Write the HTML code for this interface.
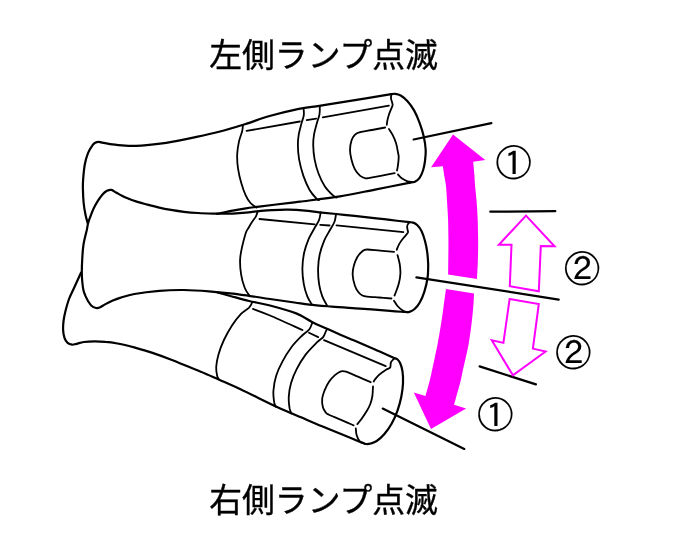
<!DOCTYPE html>
<html lang="ja"><head><meta charset="utf-8"><title>ランプ点滅</title>
<style>
html,body{margin:0;padding:0;background:#fff;}
body{width:686px;height:556px;overflow:hidden;position:relative;font-family:"Liberation Sans","Noto Sans CJK JP",sans-serif;}
svg{position:absolute;left:0;top:0;display:block;will-change:transform;}
.k{fill:none;stroke:#000;stroke-width:2.2;stroke-linecap:round;stroke-linejoin:round;}
.d{fill:none;stroke:#000;stroke-width:1.8;stroke-linecap:round;stroke-linejoin:round;}
.m{fill:#ff00ff;stroke:none;}
.mo{fill:#fff;stroke:#ff00ff;stroke-width:2;stroke-linejoin:miter;}
.t{font-family:"Liberation Sans","Noto Sans CJK JP",sans-serif;font-size:32.8px;fill:#000;stroke:#000;stroke-width:0.35;}
.c{font-family:"Liberation Sans","Noto Sans CJK JP",sans-serif;fill:#000;}
</style></head><body>
<svg width="686" height="556" viewBox="0 0 686 556">
<rect width="686" height="556" fill="#fff"/>
<path class="k" d="M87.7 223.2C87.3 221.7 86.1 217.6 85.4 214.2C84.7 210.8 84.0 206.7 83.6 202.5C83.2 198.3 83.0 192.8 82.9 189.0C82.8 185.2 82.8 184.0 83.1 180.0C83.4 176.0 83.9 169.5 84.7 165.0C85.5 160.5 86.7 156.5 88.0 153.2C89.3 149.9 91.4 146.9 92.6 145.2C93.8 143.5 94.2 143.4 95.2 142.8C96.2 142.2 97.4 141.8 98.5 141.8C99.6 141.8 100.1 142.2 102.0 142.6C103.9 143.0 106.7 143.6 110.0 144.1C113.3 144.6 117.9 145.0 122.0 145.3C126.1 145.6 130.3 145.8 134.4 145.8C138.5 145.8 140.6 145.9 146.8 145.2C153.0 144.5 163.4 143.2 171.7 141.8C180.0 140.4 188.4 138.6 196.5 136.9C204.6 135.2 211.9 133.6 220.0 131.5C228.1 129.4 236.5 126.8 244.8 124.2C253.1 121.6 261.3 118.4 269.6 116.0C277.9 113.6 286.1 111.5 294.4 109.8C302.7 108.1 311.0 107.1 319.3 105.8C327.6 104.5 332.0 103.7 344.0 101.8C356.0 99.9 383.4 95.5 391.3 94.2"/>
<path class="k" d="M217.0 213.8C219.6 213.3 228.0 211.5 232.8 210.6C237.6 209.7 241.5 209.0 245.9 208.3C250.3 207.6 251.8 207.5 259.1 206.6C266.5 205.7 283.2 203.7 290.0 202.9C296.8 202.1 291.7 202.8 300.0 201.7C308.3 200.6 327.5 198.4 340.0 196.4C352.5 194.4 363.3 191.9 375.0 189.6C386.7 187.3 404.3 183.8 410.2 182.6"/>
<path class="k" d="M391.3 94.2C392.0 94.1 393.7 93.6 395.3 93.8C396.9 94.0 398.7 94.3 400.7 95.5C402.7 96.7 405.2 98.7 407.5 101.2C409.8 103.7 412.2 107.0 414.2 110.6C416.2 114.2 418.0 118.5 419.6 122.8C421.2 127.1 422.7 131.8 423.7 136.3C424.7 140.8 425.5 145.9 425.7 150.0C425.9 154.1 425.4 157.6 425.0 161.0C424.6 164.4 423.9 167.7 423.0 170.5C422.1 173.3 421.0 176.0 419.6 177.9C418.2 179.8 416.5 180.9 414.9 181.7C413.3 182.5 411.0 182.4 410.2 182.5"/>
<path class="k" d="M409.4 222.2C406.2 221.8 396.6 220.7 390.0 219.9C383.4 219.1 377.6 218.4 369.9 217.6C362.2 216.8 352.4 215.7 344.0 214.8C335.6 213.9 325.8 213.0 319.3 212.3C312.8 211.6 310.2 211.1 305.0 210.6C299.8 210.1 293.5 209.7 288.0 209.6C282.5 209.5 277.0 209.8 272.2 210.1C267.4 210.3 263.5 210.7 259.1 211.1C254.7 211.5 250.3 212.3 245.9 212.7C241.5 213.1 237.2 213.4 232.8 213.6C228.4 213.8 223.0 213.7 219.7 213.7C216.4 213.7 216.7 213.7 213.1 213.6C209.5 213.5 202.8 213.3 198.0 213.0C193.2 212.7 188.5 212.3 184.0 211.8C179.5 211.3 175.1 210.6 171.0 209.9C166.9 209.2 163.6 208.6 159.3 207.6C155.0 206.6 148.9 205.0 145.0 204.0C141.1 203.0 138.9 202.3 136.0 201.4C133.1 200.5 129.9 199.3 127.5 198.3C125.1 197.3 123.4 196.5 121.5 195.5C119.6 194.5 117.7 193.4 116.0 192.5C114.3 191.6 113.0 190.2 111.5 189.9C110.0 189.6 108.5 190.1 107.0 190.8C105.5 191.6 104.0 192.8 102.5 194.4C101.0 196.1 99.5 198.3 98.0 200.7C96.5 203.1 94.8 206.0 93.5 208.8C92.2 211.7 90.8 215.4 89.9 217.8C89.0 220.2 88.6 221.2 88.1 223.2C87.6 225.2 87.5 226.5 86.8 230.0C86.0 233.5 84.3 239.3 83.6 244.0C82.8 248.7 82.6 253.3 82.3 258.0C82.0 262.7 81.8 268.2 81.8 272.2C81.8 276.2 82.0 279.0 82.3 282.0C82.6 285.0 82.9 287.8 83.4 290.0C83.9 292.2 84.5 293.6 85.2 295.4C86.0 297.2 86.9 299.1 87.9 300.8C89.0 302.5 90.2 304.6 91.5 305.8C92.8 307.0 94.7 307.7 96.0 308.0C97.3 308.3 98.1 308.2 99.6 307.6C101.1 307.0 102.9 305.5 105.0 304.4C107.1 303.3 109.8 301.9 112.3 300.8C114.8 299.7 116.3 299.0 120.0 297.9C123.7 296.8 127.9 295.2 134.4 294.0C141.0 292.8 151.0 291.5 159.3 290.8C167.6 290.1 175.7 289.9 184.0 290.0C192.3 290.1 201.2 290.7 208.9 291.3C216.6 291.9 223.3 292.6 230.0 293.4C236.7 294.1 242.4 294.9 249.1 295.8C255.8 296.7 262.4 297.9 270.0 299.0C277.6 300.1 287.8 301.6 294.4 302.5C301.0 303.4 303.2 303.9 309.4 304.6C315.6 305.3 323.3 305.9 331.7 306.6C340.1 307.3 350.3 307.9 360.0 308.6C369.7 309.3 382.5 310.3 390.0 310.9C397.5 311.5 402.5 311.8 405.0 312.0"/>
<path class="k" d="M409.4 222.2C410.0 222.3 412.0 222.1 413.3 222.6C414.6 223.1 416.0 223.8 417.4 225.2C418.8 226.6 420.2 228.3 421.5 230.9C422.8 233.5 424.0 237.3 425.0 241.0C426.0 244.7 426.8 248.8 427.3 252.8C427.8 256.8 428.1 260.7 428.2 264.8C428.2 268.9 428.2 273.0 427.6 277.5C427.0 282.0 425.6 287.7 424.3 291.8C423.0 295.9 421.5 299.3 419.9 302.2C418.3 305.1 416.4 307.4 414.6 309.0C412.9 310.6 410.9 311.4 409.4 311.9C407.9 312.4 406.3 312.0 405.7 312.0"/>
<path class="k" d="M81.0 272.7C79.7 275.6 75.1 285.6 73.1 290.0C71.1 294.4 70.2 295.6 69.0 299.0C67.8 302.4 66.5 306.9 65.6 310.5C64.7 314.1 64.0 317.3 63.6 320.5C63.2 323.7 63.0 326.9 63.1 329.8C63.2 332.7 63.8 335.7 64.5 337.9C65.2 340.1 66.3 341.8 67.6 342.9C68.9 344.0 70.6 344.5 72.1 344.7C73.6 344.9 74.6 344.2 76.6 343.8C78.5 343.4 80.8 342.4 83.8 342.0C86.8 341.6 91.0 341.4 94.6 341.4C98.2 341.4 101.7 341.5 105.5 341.9C109.3 342.2 114.1 342.9 117.5 343.5C120.9 344.1 123.1 344.6 126.0 345.3C128.9 346.0 132.1 346.8 135.0 347.6C137.9 348.4 140.6 349.2 143.5 350.1C146.4 351.0 148.1 351.4 152.5 352.9C156.9 354.4 164.2 357.0 170.0 359.2C175.8 361.4 181.7 363.9 187.5 366.3C193.3 368.7 199.2 370.9 205.0 373.4C210.8 375.8 216.0 378.3 222.0 381.0C228.0 383.7 231.8 385.2 241.0 389.5C250.2 393.8 266.9 402.3 277.0 407.0C287.1 411.7 294.2 414.4 301.7 417.6C309.2 420.8 315.4 423.5 322.0 426.2C328.6 428.9 334.2 431.2 341.0 434.0C347.8 436.8 358.9 441.4 362.5 442.9"/>
<path class="k" d="M217.6 292.5C219.6 293.0 224.2 294.3 229.4 295.7C234.7 297.1 242.3 299.4 249.1 301.0C255.9 302.6 262.1 303.4 270.0 305.5C277.9 307.6 289.2 310.7 296.2 313.4C303.2 316.1 306.8 319.3 312.0 321.9C317.2 324.5 322.9 326.9 327.7 329.1C332.5 331.3 336.5 333.1 340.9 335.0C345.3 336.9 348.6 338.2 354.3 340.6C360.0 343.0 368.3 346.6 375.0 349.5C381.7 352.4 391.3 356.8 394.6 358.2"/>
<path class="k" d="M394.6 358.2C395.1 358.4 396.4 358.5 397.3 359.3C398.2 360.1 399.2 361.0 400.1 363.0C401.0 365.0 402.0 367.9 402.5 371.3C403.0 374.7 403.2 379.1 403.0 383.3C402.8 387.6 402.2 392.3 401.3 396.8C400.4 401.3 399.2 405.8 397.6 410.3C396.0 414.8 393.8 419.8 391.6 423.8C389.4 427.8 386.7 431.4 384.2 434.3C381.7 437.2 378.9 439.5 376.7 441.0C374.4 442.5 372.4 443.0 370.7 443.5C369.0 444.0 367.7 444.1 366.3 444.0C364.9 443.9 363.1 442.9 362.5 442.7"/>
<path class="k" d="M490.3 211.7L555.3 211.2"/>
<path class="k" d="M479.6 366.4L535.9 384.4"/>
<path class="d" d="M391.3 94.4C391.2 95.1 390.9 97.2 391.0 98.5C391.1 99.8 391.7 100.8 392.0 101.9C392.3 103.0 392.7 104.1 392.6 105.2C392.5 106.3 391.9 107.0 391.3 108.6C390.7 110.2 389.6 112.6 388.9 114.7C388.2 116.8 387.5 119.7 387.2 121.4C386.9 123.1 386.9 124.2 386.8 124.8"/>
<path class="d" d="M388.9 128.9C389.5 129.9 391.4 132.6 392.6 134.9C393.8 137.2 395.1 140.1 396.0 143.0C396.9 145.9 397.6 150.2 398.0 152.5C398.4 154.8 398.7 154.7 398.7 157.0C398.7 159.3 398.1 164.2 397.8 166.4C397.5 168.7 397.1 169.8 397.0 170.5"/>
<path class="d" d="M398.0 174.5C398.7 175.2 400.5 177.5 402.1 178.6C403.7 179.7 405.7 180.7 407.5 181.3C409.3 181.9 412.0 182.0 412.9 182.2"/>
<path class="d" d="M243.0 125.0C242.8 126.1 242.8 128.8 242.1 131.5C241.4 134.2 239.8 137.7 239.0 141.4C238.2 145.2 237.4 149.5 237.2 154.0C237.0 158.5 237.3 163.6 238.0 168.4C238.7 173.2 239.9 178.3 241.2 182.8C242.5 187.3 244.1 192.0 245.7 195.4C247.2 198.8 248.7 201.0 250.5 203.0C252.3 205.0 255.5 206.8 256.5 207.6"/>
<path class="d" d="M303.6 108.6C303.6 109.7 304.2 112.8 303.8 115.3C303.4 117.8 302.3 120.2 301.5 123.4C300.7 126.6 299.4 130.6 298.8 134.2C298.2 137.8 297.8 140.8 297.9 145.0C297.9 149.2 298.2 154.3 299.1 159.4C300.0 164.5 301.6 170.5 303.3 175.6C305.1 180.7 307.4 186.1 309.6 190.0C311.9 193.9 315.2 197.3 316.8 199.0C318.4 200.7 318.6 199.8 319.0 200.0"/>
<path class="d" d="M319.8 106.0C319.8 107.4 320.0 111.5 319.5 114.4C319.0 117.3 317.7 120.1 316.8 123.4C315.9 126.7 314.7 130.6 314.1 134.2C313.5 137.8 313.1 140.8 313.2 145.0C313.3 149.2 313.7 154.6 314.6 159.4C315.5 164.2 316.9 169.3 318.6 173.8C320.3 178.3 322.5 182.8 324.9 186.4C327.3 190.0 331.1 193.6 333.0 195.4C334.9 197.2 335.9 197.2 336.5 197.5"/>
<path class="d" d="M385.2 127.5C383.0 127.9 376.2 129.2 372.0 130.0C367.8 130.8 363.1 131.3 360.2 132.1C357.3 132.9 356.2 133.4 354.8 134.8C353.4 136.2 352.3 138.0 351.5 140.5C350.7 143.0 350.0 146.8 350.0 150.0C350.0 153.2 350.7 156.5 351.5 159.7C352.3 162.9 353.4 166.4 354.8 169.1C356.2 171.8 358.4 174.4 360.2 175.9C362.0 177.4 364.0 178.0 365.6 178.3C367.2 178.6 367.0 178.4 369.7 177.9C372.4 177.4 377.8 176.4 382.0 175.6C386.2 174.8 392.6 173.6 394.7 173.2"/>
<path class="d" d="M246.6 130.9L299.9 121.5"/>
<path class="d" d="M306.7 120.1L316.2 118.6"/>
<path class="d" d="M322.8 117.3L388.9 105.6"/>
<path class="d" d="M409.0 222.6C408.7 223.2 407.4 224.7 407.2 225.9C406.9 227.1 407.4 228.5 407.5 229.6C407.6 230.7 408.4 231.3 407.9 232.6C407.3 233.8 405.6 235.3 404.2 237.1C402.8 238.8 400.9 241.0 399.7 243.1C398.4 245.2 397.2 248.7 396.7 249.8"/>
<path class="d" d="M397.5 255.1C397.9 256.6 399.2 260.9 399.7 264.0C400.2 267.1 400.5 270.4 400.4 273.5C400.3 276.6 399.7 279.8 399.0 282.8C398.3 285.9 396.8 289.7 396.0 291.8C395.2 293.9 394.8 294.9 394.5 295.5"/>
<path class="d" d="M394.0 300.7C394.6 301.6 396.1 304.4 397.5 306.0C398.9 307.6 401.1 309.4 402.7 310.4C404.3 311.4 406.4 311.9 407.2 312.2"/>
<path class="d" d="M257.6 211.5C257.3 212.4 256.7 215.1 255.8 216.7C255.0 218.3 253.7 219.3 252.5 221.2C251.3 223.0 249.8 225.6 248.6 227.8C247.4 230.0 246.7 229.5 245.3 234.4C243.9 239.3 241.0 250.3 240.3 257.0C239.6 263.7 240.3 269.2 241.1 274.4C241.8 279.6 243.4 284.4 244.8 288.0C246.2 291.6 249.0 294.8 249.8 296.2"/>
<path class="d" d="M320.6 212.5C320.4 213.7 320.1 217.3 319.1 219.9C318.1 222.5 316.4 224.7 314.7 227.8C313.0 230.9 310.6 234.6 308.8 238.7C307.1 242.8 305.3 247.6 304.2 252.5C303.1 257.4 302.5 263.1 302.4 268.4C302.3 273.7 303.0 279.6 303.8 284.2C304.6 288.8 305.9 292.8 307.2 296.1C308.5 299.4 310.9 302.9 311.7 304.2"/>
<path class="d" d="M336.1 213.9C335.8 215.2 335.5 219.2 334.5 221.8C333.5 224.5 331.8 226.7 330.1 229.8C328.4 232.9 325.9 236.5 324.2 240.6C322.5 244.7 320.7 249.9 319.7 254.5C318.7 259.1 318.2 263.4 318.1 268.4C318.0 273.3 318.4 279.6 319.1 284.2C319.8 288.8 320.9 292.6 322.2 296.1C323.5 299.6 326.2 303.8 327.0 305.4"/>
<path class="d" d="M394.1 251.9C391.8 251.7 384.5 251.1 380.0 250.7C375.5 250.3 369.8 249.4 366.9 249.5C364.0 249.6 364.0 250.0 362.4 251.3C360.8 252.6 358.6 254.8 357.2 257.3C355.8 259.8 354.4 263.3 353.7 266.3C352.9 269.3 352.5 272.1 352.7 275.3C352.9 278.6 353.9 282.9 354.9 285.8C355.9 288.7 357.4 290.9 358.7 292.5C359.9 294.1 361.0 294.8 362.4 295.5C363.8 296.2 364.1 296.3 366.9 296.6C369.7 296.9 374.9 297.2 379.0 297.5C383.1 297.8 389.4 298.3 391.5 298.5"/>
<path class="d" d="M259.5 219.0L314.7 224.3"/>
<path class="d" d="M320.2 224.8L329.6 225.5"/>
<path class="d" d="M336.5 225.4L403.4 232.2"/>
<path class="d" d="M393.9 358.7C393.4 359.3 391.5 360.9 390.9 362.4C390.3 363.9 391.0 366.4 390.1 367.6C389.2 368.9 387.4 368.8 385.7 369.9C384.0 371.0 381.4 372.8 379.7 374.3C377.9 375.8 376.2 377.9 375.2 379.1C374.2 380.3 373.9 381.1 373.7 381.5"/>
<path class="d" d="M373.0 386.3C372.9 387.9 372.8 393.1 372.4 396.0C371.9 398.9 371.2 401.6 370.3 404.0C369.4 406.4 368.6 407.9 367.2 410.3C365.8 412.7 363.4 416.3 361.8 418.6C360.2 420.9 358.1 423.2 357.3 424.1"/>
<path class="d" d="M355.8 428.3C355.9 429.4 356.0 432.9 356.6 435.0C357.2 437.1 358.2 439.5 359.6 441.0C361.0 442.5 363.9 443.5 364.8 444.0"/>
<path class="d" d="M252.1 302.6C251.6 303.4 250.9 305.7 249.1 307.6C247.2 309.5 243.8 310.9 241.0 313.9C238.2 316.9 234.8 321.2 232.0 325.6C229.2 330.0 226.2 335.2 223.9 340.0C221.7 344.8 219.8 349.9 218.5 354.4C217.2 358.9 216.4 363.4 216.2 367.0C216.0 370.6 216.8 374.1 217.2 376.0C217.6 377.9 218.3 378.2 218.5 378.7"/>
<path class="d" d="M312.4 322.5C311.9 323.6 311.1 327.0 309.4 329.2C307.7 331.4 305.2 332.5 302.2 335.5C299.2 338.5 294.7 342.8 291.4 347.2C288.1 351.6 284.9 356.8 282.4 361.6C279.8 366.4 277.6 371.1 276.1 376.0C274.6 380.9 273.7 386.5 273.4 391.0C273.1 395.5 273.9 400.4 274.3 403.0C274.8 405.6 275.8 406.2 276.1 406.9"/>
<path class="d" d="M327.1 329.0C326.9 329.5 326.1 330.9 325.6 332.0C325.1 333.1 324.8 334.3 324.2 335.3C323.6 336.3 323.6 336.8 322.3 338.0C321.0 339.2 319.4 340.0 316.6 342.7C313.9 345.4 309.1 350.0 305.8 354.4C302.5 358.8 299.3 364.0 296.8 368.8C294.3 373.6 292.4 378.4 291.0 383.2C289.6 388.0 288.9 393.4 288.7 397.6C288.5 401.8 289.2 405.8 289.6 408.4C290.1 411.0 291.1 412.6 291.4 413.4"/>
<path class="d" d="M370.7 382.2C368.6 381.3 362.1 378.5 358.0 376.7C353.9 374.9 349.0 372.5 346.1 371.6C343.2 370.7 342.8 370.7 340.9 371.3C339.0 371.9 336.9 373.4 334.9 375.1C332.9 376.9 330.7 379.2 329.0 381.8C327.3 384.4 325.6 387.9 324.5 390.7C323.4 393.5 322.5 395.7 322.2 398.5C321.9 401.3 322.3 404.9 322.9 407.3C323.5 409.7 325.0 411.6 326.0 412.8C327.0 414.1 326.5 413.6 329.0 414.8C331.5 416.0 336.9 418.1 341.0 419.9C345.1 421.6 351.5 424.4 353.6 425.3"/>
<path class="d" d="M253.0 308.9C255.8 310.0 261.8 312.0 270.0 315.5C278.2 319.0 297.1 327.6 302.5 330.0"/>
<path class="d" d="M309.0 332.8L318.2 337.1"/>
<path class="d" d="M324.0 340.1L385.7 366.1"/>
<path class="d" style="stroke-width:2.2" d="M413.6 139.5L491.4 123.2"/>
<path class="d" style="stroke-width:2.2" d="M416.4 277.3L558.7 299.6"/>
<path class="d" style="stroke-width:2.2" d="M382.7 408.6L464.3 448.9"/>
<path class="m" d="M453.0 134.6L485.3 160.1L473.2 161.8C473.4 164.1 474.1 171.1 474.4 175.3C474.7 179.5 474.8 182.5 475.2 187.0C475.6 191.5 476.3 197.0 476.7 202.5C477.1 208.0 477.5 214.2 477.7 220.1C477.9 225.9 478.0 232.6 478.1 237.6C478.2 242.6 478.2 245.4 478.1 250.0C478.0 254.6 477.9 260.2 477.7 265.0C477.5 269.8 477.1 276.6 477.0 278.9L448.1 274.5C448.2 270.4 448.3 256.1 448.4 250.0C448.4 243.8 448.4 242.6 448.4 237.6C448.3 232.6 448.3 225.9 448.1 220.1C447.9 214.2 447.4 208.0 447.1 202.5C446.8 197.0 446.5 191.2 446.1 187.0C445.7 182.8 445.2 181.1 444.6 177.6C444.1 174.1 443.1 168.1 442.8 166.2L431.1 167.3Z"/>
<path class="m" d="M474.0 293.5C473.9 295.4 473.8 300.2 473.4 305.0C473.0 309.8 472.5 316.1 471.7 322.5C470.9 328.9 469.7 337.8 468.7 343.6C467.7 349.5 466.8 353.2 465.8 357.6C464.8 362.0 463.7 366.2 462.9 370.0C462.1 373.8 461.7 376.3 460.8 380.2C459.9 384.1 458.4 389.0 457.3 393.1C456.2 397.2 454.6 402.9 454.0 404.8L466.1 408.5L431.0 429.1L413.8 392.5L425.5 396.0C426.2 393.4 428.7 384.5 429.8 380.2C430.9 375.9 431.3 373.8 432.1 370.0C432.9 366.2 433.9 362.0 434.8 357.6C435.7 353.2 436.6 349.5 437.7 343.6C438.8 337.8 440.3 328.6 441.3 322.5C442.3 316.4 442.7 312.6 443.5 307.0C444.3 301.4 445.6 292.1 446.0 289.1Z"/>
<path class="mo" d="M526.0 215.6L554.5 246.3L540.8 246.1L538.8 291.2L509.8 286.2L511.5 244.8L498.9 244.8Z"/>
<path class="mo" d="M509.6 299.1L538.8 304.0L532.9 348.6L545.6 351.5L512.9 375.3L491.8 340.2L503.4 342.9Z"/>
<text class="t" x="323.6" y="66.9" text-anchor="middle">左側ランプ点滅</text>
<text class="t" x="323.6" y="511.6" text-anchor="middle">右側ランプ点滅</text>
<text class="c" stroke="#000" stroke-width="0.1" style="font-family:'Liberation Sans','IPAGothic',sans-serif" font-size="36.3" x="513.7" y="176.0" text-anchor="middle">①</text>
<text class="c" stroke="#000" stroke-width="0.1" style="font-family:'Liberation Sans','IPAGothic',sans-serif" font-size="36.3" x="582.1" y="282.0" text-anchor="middle">②</text>
<text class="c" stroke="#000" stroke-width="0.1" style="font-family:'Liberation Sans','IPAGothic',sans-serif" font-size="36.3" x="573.4" y="365.7" text-anchor="middle">②</text>
<text class="c" stroke="#000" stroke-width="0.1" style="font-family:'Liberation Sans','IPAGothic',sans-serif" font-size="36.3" x="495.4" y="427.6" text-anchor="middle">①</text>
</svg>
</body></html>
